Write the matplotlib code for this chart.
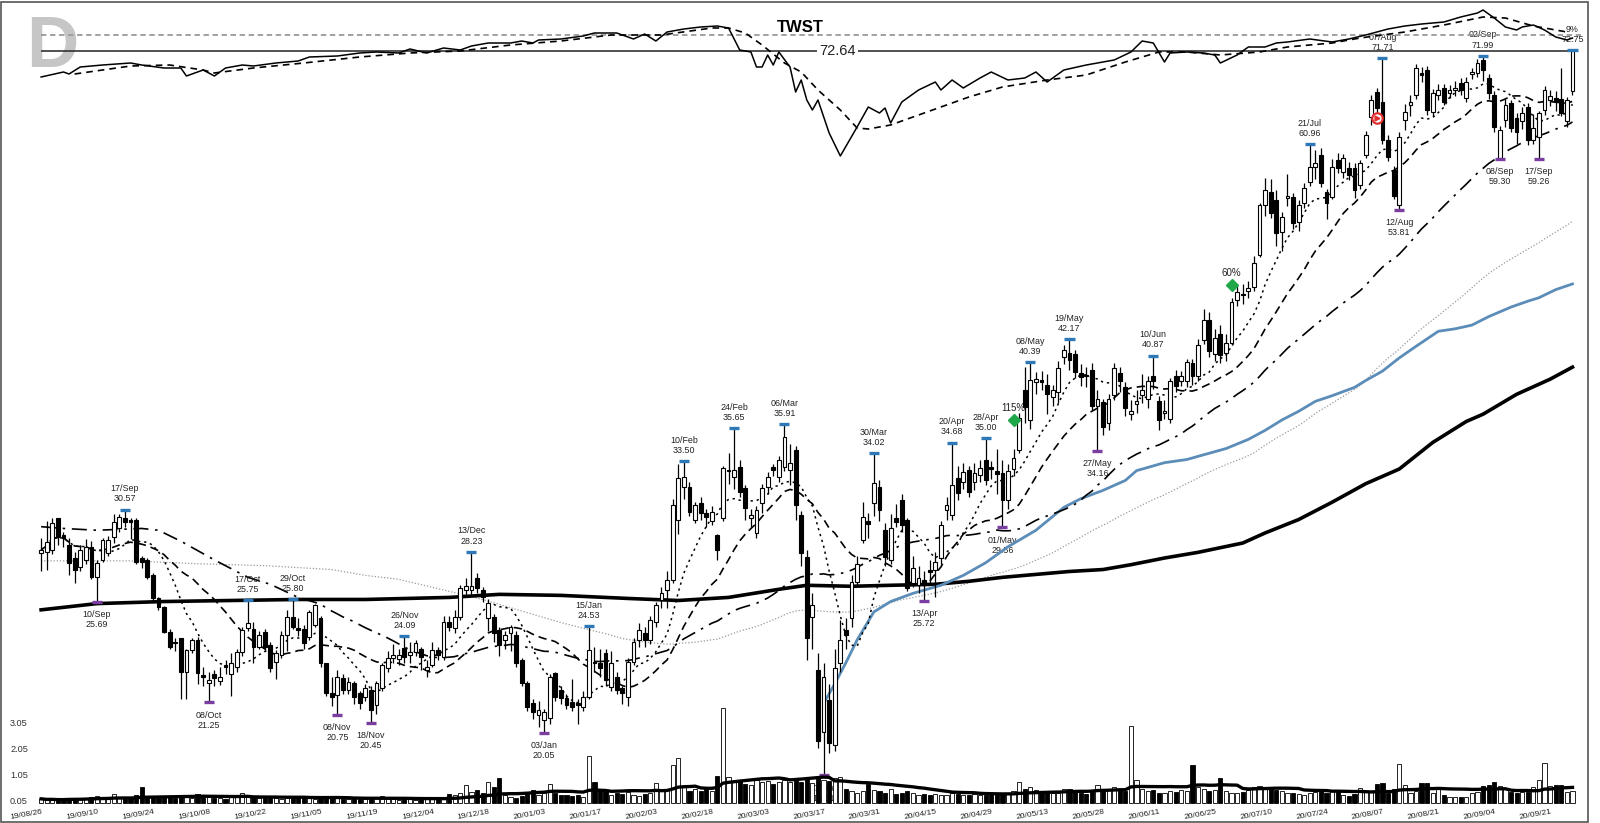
"""TWST daily chart: candles, moving averages, relative strength line and volume."""
import matplotlib
matplotlib.use("Agg")
import matplotlib.pyplot as plt
from matplotlib.patches import Rectangle
from matplotlib.transforms import blended_transform_factory
import numpy as np
import pandas as pd

plt.rcParams["font.family"] = ["Liberation Sans", "DejaVu Sans"]

TICKER = "TWST"
HOLIDAYS = ["2019-09-02", "2019-11-28", "2019-12-25", "2020-01-01", "2020-01-20",
            "2020-02-17", "2020-04-10", "2020-05-25", "2020-07-03", "2020-09-07"]

opens = [
    28.15, 28.24, 28.33, 30.07, 29.14, 28.60, 27.89, 27.45, 27.80, 28.50,
    26.94, 27.80, 28.15, 29.04, 29.50, 30.07, 29.98, 29.98, 27.89, 27.80,
    27.02, 25.85, 25.45, 24.28, 23.83, 23.98, 22.51, 23.46, 23.90, 22.37,
    22.02, 22.41, 22.13, 22.80, 22.41, 22.72, 23.38, 24.44, 24.40, 23.60,
    24.28, 23.68, 22.94, 23.24, 24.13, 24.97, 24.44, 24.40, 24.05, 24.59,
    24.90, 22.87, 21.61, 21.54, 22.23, 21.75, 22.02, 21.61, 21.48, 21.75,
    21.14, 21.82, 22.65, 23.09, 23.05, 23.52, 23.24, 23.38, 23.50, 22.58,
    22.80, 23.46, 23.16, 24.74, 24.44, 24.97, 26.27, 26.27, 26.85, 26.27,
    24.90, 24.97, 24.36, 23.90, 24.20, 24.13, 23.01, 22.02, 21.21, 20.75,
    20.55, 20.62, 22.44, 21.75, 21.41, 21.27, 21.21, 21.07, 21.48, 22.94,
    22.87, 23.31, 21.89, 22.30, 21.82, 21.48, 22.94, 23.90, 24.20, 23.90,
    24.74, 25.77, 26.27, 26.77, 29.98, 31.93, 31.93, 29.98, 30.94, 30.36,
    29.90, 29.14, 30.07, 32.85, 32.53, 33.15, 31.82, 30.07, 29.23, 30.94,
    31.93, 33.15, 32.53, 33.15, 32.94, 34.21, 30.26, 27.96, 24.97, 22.60,
    20.10, 21.34, 19.60, 22.87, 24.36, 24.91, 26.67, 28.86, 29.90, 30.94,
    31.90, 29.41, 27.80, 30.10, 31.13, 29.98, 26.62, 26.52, 26.77, 27.27,
    27.27, 27.89, 30.55, 30.26, 32.45, 32.20, 32.94, 32.20, 32.63, 33.57,
    33.05, 32.90, 32.75, 31.13, 33.00, 34.21, 38.31, 36.20, 38.90, 39.00,
    38.70, 37.80, 38.20, 40.76, 41.10, 41.00, 39.55, 39.40, 39.78, 37.20,
    37.45, 36.00, 37.97, 39.55, 38.50, 36.62, 37.30, 37.95, 37.70, 39.34,
    37.50, 36.70, 36.30, 39.34, 38.96, 38.96, 40.30, 39.30, 42.10, 43.70,
    41.00, 42.60, 41.10, 41.90, 45.40, 45.90, 46.20, 46.50, 49.40, 54.30,
    55.65, 54.80, 51.60, 55.00, 55.10, 52.60, 54.50, 56.70, 58.40, 59.70,
    55.65, 55.10, 59.13, 57.80, 58.25, 58.25, 56.40, 59.70, 64.10, 67.20,
    66.00, 61.40, 58.00, 54.30, 63.80, 65.60, 66.90, 69.70, 70.08, 64.80,
    66.90, 67.80, 67.10, 67.50, 68.40, 66.50, 69.60, 69.70, 71.42, 69.00,
    66.90, 59.35, 63.80, 65.85, 64.00, 63.60, 65.40, 61.40, 61.80, 65.00,
    66.20, 66.50, 66.30, 63.60, 67.30,
]
highs = [
    28.95, 29.90, 30.10, 30.10, 29.30, 29.00, 28.20, 28.60, 28.90, 28.80,
    27.80, 29.00, 29.10, 30.30, 30.30, 30.57, 30.10, 30.10, 28.00, 27.90,
    27.10, 25.90, 25.50, 24.40, 24.00, 24.00, 23.50, 24.00, 24.05, 22.70,
    22.50, 22.60, 22.70, 23.00, 23.30, 23.50, 24.51, 25.75, 24.74, 24.30,
    24.40, 23.80, 23.46, 24.30, 25.30, 25.80, 24.90, 24.60, 25.30, 25.60,
    25.00, 22.90, 22.30, 22.58, 22.40, 22.30, 22.10, 21.70, 22.00, 21.90,
    22.10, 22.90, 23.40, 23.70, 23.50, 24.09, 23.80, 23.90, 23.60, 23.00,
    23.80, 23.60, 25.00, 25.00, 25.30, 26.50, 26.85, 28.23, 27.10, 26.40,
    25.80, 25.10, 24.50, 24.30, 24.60, 24.30, 23.10, 22.10, 21.40, 21.30,
    21.00, 22.40, 22.50, 21.90, 21.60, 22.20, 21.40, 21.70, 24.53, 23.60,
    23.50, 23.50, 23.40, 22.50, 21.90, 23.10, 24.00, 24.70, 24.50, 25.00,
    25.70, 26.40, 27.20, 31.20, 33.30, 33.50, 32.20, 31.00, 31.30, 30.60,
    30.80, 29.20, 33.20, 34.00, 35.65, 33.60, 32.00, 30.60, 30.80, 32.10,
    32.80, 33.30, 33.80, 35.91, 34.60, 34.50, 30.50, 28.30, 26.10, 23.30,
    22.90, 22.00, 23.50, 24.80, 24.90, 27.00, 28.00, 31.00, 30.40, 34.02,
    32.30, 29.80, 30.30, 30.90, 31.50, 30.10, 28.00, 27.50, 27.20, 27.80,
    28.20, 29.90, 31.30, 34.68, 33.20, 33.40, 33.20, 33.40, 33.60, 35.00,
    33.50, 34.30, 33.60, 33.30, 34.30, 36.70, 40.00, 40.39, 39.60, 39.70,
    39.50, 38.70, 40.50, 41.70, 42.17, 41.30, 40.20, 40.00, 40.30, 38.30,
    37.70, 38.00, 40.30, 40.00, 38.90, 37.60, 38.30, 39.50, 39.30, 40.87,
    37.90, 37.60, 39.20, 39.80, 39.70, 40.60, 40.60, 42.20, 44.60, 44.40,
    43.00, 43.30, 42.60, 45.60, 46.60, 46.80, 47.10, 49.30, 54.50, 57.20,
    57.00, 55.90, 53.60, 57.60, 55.60, 54.80, 56.60, 60.96, 60.30, 60.50,
    56.00, 59.20, 59.90, 59.80, 58.90, 58.80, 59.10, 62.50, 66.80, 67.80,
    71.71, 62.00, 58.50, 62.30, 65.70, 66.80, 70.90, 70.50, 70.60, 67.60,
    68.20, 68.30, 68.10, 68.60, 69.00, 69.10, 70.30, 71.60, 71.99, 69.60,
    67.30, 63.00, 66.30, 66.20, 64.60, 65.40, 65.90, 64.50, 64.90, 68.00,
    67.50, 67.30, 70.40, 66.60, 72.75,
]
lows = [
    27.20, 27.30, 28.10, 28.60, 28.50, 27.00, 26.60, 27.20, 27.60, 26.80,
    25.69, 27.70, 28.00, 28.70, 29.30, 29.60, 28.90, 27.60, 27.40, 26.80,
    25.70, 25.30, 24.20, 23.50, 23.40, 21.40, 21.40, 23.30, 22.00, 21.90,
    21.25, 21.90, 21.95, 22.40, 21.50, 22.50, 23.20, 24.30, 22.90, 23.50,
    23.40, 22.50, 22.20, 23.10, 23.40, 24.40, 24.10, 23.50, 23.90, 24.50,
    22.70, 21.50, 21.10, 20.75, 21.60, 21.60, 21.20, 21.00, 21.30, 20.45,
    20.80, 21.70, 22.50, 22.90, 22.80, 22.90, 22.90, 23.20, 22.60, 22.30,
    22.70, 23.00, 23.00, 24.30, 24.20, 24.80, 25.90, 26.00, 26.10, 25.70,
    24.30, 23.80, 23.20, 23.50, 23.40, 22.70, 21.90, 20.90, 20.60, 20.30,
    20.05, 20.40, 21.30, 21.20, 21.00, 20.90, 20.40, 20.90, 21.40, 22.50,
    22.30, 21.90, 21.70, 21.60, 21.20, 21.10, 22.80, 23.60, 23.60, 23.70,
    24.50, 25.40, 25.40, 26.60, 29.20, 31.20, 30.20, 29.80, 30.00, 29.60,
    29.70, 27.80, 29.90, 32.10, 31.80, 31.30, 30.00, 29.60, 29.00, 30.40,
    31.50, 32.60, 32.20, 32.90, 32.00, 30.00, 27.50, 23.00, 23.50, 19.50,
    18.51, 19.30, 19.40, 22.50, 23.50, 24.50, 26.40, 28.70, 29.00, 30.20,
    29.90, 27.50, 27.60, 29.60, 29.30, 26.20, 26.40, 26.10, 25.72, 26.50,
    25.90, 27.60, 30.00, 30.00, 31.10, 31.80, 31.30, 31.70, 32.20, 32.00,
    32.40, 31.50, 29.56, 30.60, 32.60, 34.00, 36.00, 35.60, 38.00, 38.30,
    36.60, 37.20, 37.40, 40.20, 39.80, 39.20, 38.60, 38.50, 36.90, 34.16,
    35.20, 35.50, 37.60, 38.20, 36.50, 36.20, 36.70, 37.40, 37.00, 38.40,
    35.50, 36.30, 36.00, 38.20, 38.60, 38.50, 38.70, 39.00, 41.80, 40.80,
    40.50, 40.30, 40.50, 41.70, 44.90, 45.10, 45.60, 46.20, 49.20, 53.20,
    53.00, 50.30, 49.80, 54.20, 51.90, 51.70, 54.00, 56.30, 57.00, 56.20,
    52.90, 54.90, 57.70, 57.20, 56.90, 55.00, 56.00, 59.40, 63.20, 64.50,
    61.00, 59.00, 54.90, 53.81, 62.60, 64.30, 66.30, 68.50, 64.40, 64.30,
    66.20, 65.60, 66.50, 66.70, 66.90, 66.00, 68.90, 69.20, 68.70, 66.40,
    62.30, 59.30, 62.90, 62.30, 61.00, 62.70, 60.80, 61.00, 59.26, 64.40,
    65.50, 64.90, 64.20, 62.90, 66.90,
]
closes = [
    28.33, 28.77, 29.79, 29.04, 28.95, 27.62, 27.27, 28.33, 28.50, 26.94,
    27.62, 28.86, 28.86, 29.88, 30.17, 29.88, 29.88, 27.71, 27.71, 26.94,
    25.85, 25.45, 24.28, 23.60, 23.75, 22.51, 23.46, 23.90, 22.44, 22.30,
    22.16, 22.23, 22.30, 22.72, 22.87, 23.38, 24.36, 24.67, 23.60, 24.13,
    23.60, 22.65, 23.31, 24.13, 24.97, 24.51, 24.36, 23.75, 25.20, 25.55,
    22.87, 21.61, 21.48, 22.30, 21.75, 22.09, 21.48, 21.21, 21.82, 20.94,
    22.02, 22.80, 23.09, 23.24, 23.24, 23.16, 23.38, 23.75, 23.16, 22.72,
    23.46, 23.24, 24.74, 24.51, 24.97, 26.36, 26.44, 26.44, 26.36, 25.94,
    25.61, 24.20, 23.68, 24.13, 24.51, 22.87, 22.02, 21.07, 20.88, 20.94,
    20.88, 22.30, 21.48, 21.41, 21.14, 21.07, 21.14, 21.48, 23.46, 22.87,
    22.65, 22.16, 22.87, 21.75, 21.61, 22.94, 23.83, 24.36, 23.90, 24.82,
    25.53, 26.11, 26.77, 30.84, 32.43, 32.53, 30.45, 30.84, 30.36, 30.17,
    30.45, 28.33, 33.05, 32.94, 32.94, 31.62, 30.64, 30.26, 30.55, 31.82,
    32.53, 32.94, 33.57, 35.07, 33.36, 30.84, 28.15, 23.98, 25.53, 19.75,
    22.30, 19.67, 22.65, 23.90, 24.13, 26.67, 27.60, 30.15, 29.75, 32.15,
    30.55, 27.96, 29.55, 29.88, 29.70, 26.37, 27.38, 26.87, 26.52, 27.19,
    27.71, 29.70, 30.84, 32.03, 31.53, 32.82, 31.60, 32.75, 33.07, 32.33,
    33.00, 32.70, 31.13, 32.88, 33.70, 36.34, 37.10, 39.04, 39.10, 38.90,
    38.00, 38.30, 39.90, 41.31, 40.55, 39.63, 39.24, 39.30, 37.20, 37.70,
    35.72, 37.70, 39.93, 38.96, 37.00, 36.80, 37.50, 38.30, 38.96, 38.96,
    36.20, 36.85, 38.96, 38.60, 39.34, 40.40, 39.30, 41.70, 43.70, 41.20,
    42.30, 40.90, 41.90, 45.20, 46.10, 45.80, 46.40, 48.65, 54.30, 55.90,
    53.50, 51.50, 53.10, 55.30, 52.50, 54.30, 56.05, 58.40, 58.80, 56.60,
    54.50, 58.40, 58.25, 59.35, 57.50, 55.87, 58.80, 62.00, 66.20, 65.20,
    61.40, 59.50, 55.30, 61.80, 64.80, 66.00, 70.40, 69.40, 65.00, 67.10,
    67.50, 66.00, 67.50, 67.80, 67.50, 68.50, 69.70, 71.00, 70.08, 67.10,
    62.90, 62.60, 65.60, 62.80, 62.30, 64.60, 61.40, 62.80, 64.60, 67.50,
    66.70, 66.00, 64.60, 66.20, 72.64,
]
# volume, millions of shares
volume = [
    0.16, 0.12, 0.14, 0.10, 0.13, 0.18, 0.15, 0.17, 0.21, 0.23,
    0.28, 0.20, 0.22, 0.36, 0.25, 0.20, 0.18, 0.30, 0.62, 0.26,
    0.24, 0.20, 0.22, 0.26, 0.18, 0.24, 0.22, 0.20, 0.36, 0.24,
    0.22, 0.18, 0.20, 0.16, 0.24, 0.22, 0.40, 0.26, 0.22, 0.18,
    0.20, 0.22, 0.18, 0.16, 0.20, 0.18, 0.22, 0.20, 0.18, 0.16,
    0.20, 0.22, 0.18, 0.20, 0.16, 0.14, 0.18, 0.16, 0.15, 0.18,
    0.20, 0.28, 0.18, 0.14, 0.12, 0.16, 0.14, 0.12, 0.15, 0.14,
    0.16, 0.18, 0.22, 0.34, 0.30, 0.38, 0.68, 0.42, 0.50, 0.38,
    0.82, 0.62, 0.95, 0.30, 0.22, 0.18, 0.28, 0.35, 0.50, 0.32,
    0.40, 0.75, 0.38, 0.30, 0.32, 0.28, 0.30, 0.25, 1.80, 0.82,
    0.50, 0.45, 0.30, 0.38, 0.35, 0.42, 0.32, 0.28, 0.36, 0.40,
    0.76, 0.50, 0.55, 1.45, 1.72, 0.60, 0.45, 0.55, 0.48, 0.52,
    0.48, 1.04, 3.65, 1.01, 0.85, 0.90, 0.75, 0.70, 0.88, 0.80,
    0.85, 0.75, 0.80, 0.90, 0.82, 0.88, 0.80, 0.92, 0.78, 0.95,
    0.90, 0.85, 0.95, 1.00, 0.55, 0.45, 0.40, 0.45, 0.75, 0.50,
    0.45, 0.40, 0.55, 0.35, 0.40, 0.45, 0.38, 0.32, 0.36, 0.30,
    0.35, 0.32, 0.30, 0.38, 0.35, 0.32, 0.30, 0.36, 0.32, 0.30,
    0.35, 0.38, 0.40, 0.36, 0.45, 0.80, 0.55, 0.60, 0.50, 0.48,
    0.45, 0.40, 0.38, 0.55, 0.52, 0.45, 0.40, 0.35, 0.50, 0.70,
    0.45, 0.55, 0.62, 0.50, 0.48, 2.95, 0.90, 0.55, 0.45, 0.50,
    0.40, 0.38, 0.45, 0.42, 0.50, 0.45, 1.47, 0.60, 0.55, 0.48,
    0.50, 0.95, 0.45, 0.40, 0.38, 0.42, 0.50, 0.60, 0.65, 0.55,
    0.60, 0.50, 0.45, 0.40, 0.38, 0.35, 0.30, 0.40, 0.42, 0.45,
    0.40, 0.50, 0.46, 0.31, 0.28, 0.33, 0.57, 0.43, 0.43, 0.73,
    0.78, 0.40, 0.53, 1.49, 0.69, 0.37, 0.46, 0.78, 0.76, 0.37,
    0.59, 0.31, 0.24, 0.24, 0.24, 0.24, 0.40, 0.43, 0.65, 0.69,
    0.82, 0.65, 0.53, 0.43, 0.37, 0.43, 0.43, 0.60, 0.88, 1.53,
    0.65, 0.69, 0.69, 0.43, 0.47,
]

# long averages read off the chart where the visible window has no history
ma50_head_idx = [0, 4, 10, 18, 21, 25, 31, 37, 41, 46]
ma50_head_val = [29.6, 29.5, 29.4, 29.5, 29.4, 28.8, 27.8, 26.9, 26.55, 25.9]
ma100_head_idx = [0, 16, 28, 40, 52, 58, 64, 73, 79, 84, 93]
ma100_head_val = [27.75, 27.75, 27.6, 27.5, 27.3, 27.0, 26.8, 26.2, 25.8, 25.4, 24.7]
ma200_idx = [0, 10, 22, 34, 46, 58, 73, 82, 93, 105, 114, 123, 132, 137, 145,
             152, 160, 166, 172, 178, 184, 190, 195, 201, 207, 215, 219, 225, 231,
             237, 243, 249, 255, 258, 264, 270, 274]
ma200_val = [25.3, 25.6, 25.7, 25.75, 25.8, 25.8, 25.9, 26.05, 26.0, 25.85, 25.75, 25.9, 26.3, 26.5, 26.45,
             26.5, 26.55, 26.7, 26.9, 27.05, 27.2, 27.3, 27.55, 27.9, 28.2, 28.7, 29.25, 30.0, 31.0,
             32.1, 33.0, 34.7, 36.1, 36.6, 38.0, 39.1, 40.0]
# VWAP anchored at the March low
vwap_idx = [140, 142, 144, 146, 149, 152, 156, 161, 165, 169, 173, 178, 183, 186, 190, 194, 196, 201,
            205, 208, 212, 216, 219, 222, 225, 228, 231, 235, 237, 240, 243, 246, 250, 253, 256, 259,
            263, 266, 268, 271, 274]
vwap_val = [21.2, 22.0, 22.9, 23.9, 25.2, 25.7, 26.1, 26.5, 27.0, 27.65, 28.5, 29.4, 30.7, 31.2, 31.7,
            32.3, 32.9, 33.4, 33.6, 33.9, 34.3, 34.9, 35.5, 36.2, 36.8, 37.5, 37.9, 38.5, 39.0, 39.7,
            40.7, 41.6, 42.8, 43.0, 43.3, 44.0, 44.8, 45.3, 45.6, 46.3, 46.8]

# relative strength line (arbitrary units) and its average
rs_idx = [0, 4, 5, 7, 11, 16, 18, 22, 25, 26, 29, 31, 33, 36, 38, 42, 46, 48, 53, 57,
          60, 64, 66, 69, 72, 75, 77, 80, 84, 86, 88, 89, 93, 97, 99, 103, 106, 108, 110, 112,
          115, 118, 121, 123, 125, 127, 128, 129, 130, 131, 132, 134, 135, 136, 137, 138, 139, 141, 143, 146,
          148, 150, 151, 152, 154, 157, 160, 161, 163, 165, 168, 170, 173, 176, 178, 180, 183, 187, 190, 192,
          195, 197, 199, 201, 202, 205, 208, 210, 211, 214, 216, 219, 221, 223, 227, 231, 234, 237, 241, 244,
          247, 251, 254, 257, 258, 260, 262, 264, 265, 267, 269, 271, 273, 274]
rs_val = [123, 128, 126, 133, 135, 137, 135, 132, 132, 124, 130, 124, 132, 135, 134, 137, 139, 143, 144, 147,
          148, 147, 151, 147, 152, 150, 154, 157, 157, 159, 157, 160, 161, 164, 167, 167, 161, 166, 159, 168,
          171, 173, 174, 172, 150, 148, 133, 133, 145, 135, 148, 133, 108, 120, 100, 90, 100, 67, 44, 73,
          93, 87, 92, 77, 98, 110, 118, 110, 120, 112, 122, 128, 120, 122, 128, 118, 130, 135, 138, 140,
          148, 159, 157, 138, 147, 148, 147, 145, 137, 145, 153, 153, 157, 158, 161, 158, 161, 165, 171, 174,
          176, 178, 183, 187, 190, 182, 173, 170, 173, 175, 170, 163, 160, 162]
rs_ma_idx = [6, 16, 23, 29, 31, 38, 47, 57, 66, 75, 84, 93, 102, 111, 120, 123, 126, 129, 133, 136,
             139, 143, 146, 148, 152, 157, 161, 166, 172, 180, 187, 194, 200, 205, 211, 218, 223, 231, 236, 244,
             251, 258, 262, 267, 273]
rs_ma_val = [126, 134, 135, 130, 127, 132, 137, 143, 147, 149, 155, 159, 165, 165, 172, 172, 167, 155, 137, 128,
             110, 90, 72, 71, 75, 85, 93, 103, 113, 120, 125, 138, 148, 148, 145, 148, 153, 157, 162, 168,
             175, 183, 182, 174, 168]
RS_REF = 165

hi_idx = [15, 37, 45, 65, 77, 98, 115, 124, 133, 149, 163, 169, 177, 184, 199, 227, 240, 258, 274]
lo_idx = [10, 30, 53, 59, 90, 140, 158, 172, 189, 243, 261, 268]
sig_idx = [174, 213]
sig_price = [36.2, 46.7]
sig_text = ["115%", "60%"]
event_idx = [239]
event_price = [64.0]
vol_ticks = [0.05, 1.05, 2.05, 3.05]

W, H = 1600, 823
X0, DX = 41.1, 5.589          # pixel of the first bar and bar spacing
BLUE, PURPLE = "#2f78b7", "#7a3da0"


def main() -> None:
    dates = pd.bdate_range("2019-08-26", "2020-09-25")
    dates = dates[~dates.isin(pd.to_datetime(HOLIDAYS))]
    o, h, l, c = (np.array(a, dtype=float) for a in (opens, highs, lows, closes))
    v = np.array(volume)
    n = len(c)
    x = np.arange(n)
    xlim = (-X0 / DX, (W - X0) / DX)

    fig = plt.figure(figsize=(W / 100, H / 100), dpi=100)
    fig.patch.set_facecolor("white")

    # ---- price panel
    ax = fig.add_axes([0, 0, 1, 1])
    ax.set_yscale("log")
    ax.set_xlim(*xlim)
    ax.set_ylim(16.92, 79.98)
    ax.axis("off")

    ax.text(52 / W, 1 - 48 / H, "D", transform=fig.transFigure, ha="center", va="center",
            fontsize=52, fontweight="bold", color="#c6c6c6", zorder=0)

    s = pd.Series(c)
    ma10 = s.rolling(10, min_periods=1).mean()
    ma21 = s.rolling(21, min_periods=1).mean()
    ma50 = s.rolling(50).mean()
    ma100 = s.rolling(100).mean()
    ax.plot(ma100_head_idx + list(range(99, n)), ma100_head_val + list(ma100[99:]),
            color="#9a9a9a", lw=0.9, ls=(0, (1, 1.5)), zorder=2)
    ax.plot(ma200_idx, ma200_val, color="black", lw=2.6, zorder=2)
    ax.plot(vwap_idx, vwap_val, color="#5b8db8", lw=2.0, zorder=2)
    ax.plot(ma50_head_idx + list(range(49, n)), ma50_head_val + list(ma50[49:]),
            color="black", lw=1.2, ls=(0, (9, 4, 1.5, 4)), zorder=2)
    ax.plot(x, ma21, color="black", lw=1.2, ls=(0, (5, 3)), zorder=2)
    ax.plot(x, ma10, color="black", lw=1.1, ls=(0, (1.5, 2.5)), zorder=2)

    # candles
    up = c >= o
    ax.vlines(x, l, h, color="black", lw=0.9, zorder=3)
    body_lo = np.minimum(o, c)
    body_h = np.maximum(np.abs(c - o), body_lo * 0.003)
    ax.bar(x, body_h, bottom=body_lo, width=0.68, color=np.where(up, "white", "black"),
           edgecolor="black", linewidth=0.8, zorder=4)

    # last price line
    ax.hlines(c[-1], 0, n - 0.5, color="#333333", lw=1.2, zorder=2)
    ax.text(142.5, c[-1], f"{c[-1]:.2f}", ha="center", va="center", fontsize=10.5, color="#222222",
            bbox=dict(facecolor="white", edgecolor="none", pad=1.5), zorder=5)

    # swing high / low labels
    pct = int((c[-1] / c[-2] - 1) * 100)
    for i in hi_idx:
        ax.plot([i - 0.9, i + 0.9], [h[i], h[i]], color=BLUE, lw=2.4, solid_capstyle="butt", zorder=5)
        label = dates[i].strftime("%d/%b") if i < n - 1 else f"{pct}%"
        ax.annotate(f"{label}\n{h[i]:.2f}", (i, h[i]), xytext=(0, 4.5), textcoords="offset points",
                    ha="center", va="bottom", fontsize=6.4, linespacing=1.15, color="#222222", zorder=6)
    for i in lo_idx:
        ax.plot([i - 0.9, i + 0.9], [l[i], l[i]], color=PURPLE, lw=2.4, solid_capstyle="butt", zorder=5)
        ax.annotate(f"{dates[i].strftime('%d/%b')}\n{l[i]:.2f}", (i, l[i]), xytext=(0, -6),
                    textcoords="offset points", ha="center", va="top", fontsize=6.4,
                    linespacing=1.15, color="#222222", zorder=1)

    ax.plot(sig_idx, sig_price, "D", color="#1fa84a", ms=6, zorder=6)
    for i, p, t in zip(sig_idx, sig_price, sig_text):
        ax.annotate(t, (i, p), xytext=(0, 5), textcoords="offset points", ha="center", va="bottom",
                    fontsize=7, color="#222222", zorder=6)
    ax.plot(event_idx, event_price, "o", mfc="white", mec="#e03030", mew=1.6, ms=7.5, zorder=6)
    ax.plot(event_idx, event_price, ">", color="#e03030", ms=3.5, zorder=7)

    trans = blended_transform_factory(ax.transData, ax.transAxes)
    for i in range(0, n, 10):
        ax.text(i + 0.3, 1 - 812 / H, dates[i].strftime("%y/%m/%d"), transform=trans, rotation=10,
                rotation_mode="anchor", ha="right", va="center", fontsize=6, color="#222222")

    # ---- volume panel
    axv = fig.add_axes([0, 0, 1, 1])
    axv.set_xlim(*xlim)
    axv.set_ylim(-0.769, 30.885)
    axv.axis("off")
    axv.bar(x, v, width=0.75, color=np.where(up, "white", "black"), edgecolor="black", linewidth=0.6)
    axv.plot(x, pd.Series(v).rolling(20, min_periods=1).mean(), color="black", lw=2.4)
    vtrans = blended_transform_factory(axv.transAxes, axv.transData)
    for t in vol_ticks:
        axv.text(10 / W, t, f"{t:.2f}", transform=vtrans, ha="left", va="center", fontsize=6.6,
                 color="#333333")

    # ---- relative strength panel
    axr = fig.add_axes([0, 0, 1, 1])
    axr.set_xlim(*xlim)
    axr.set_ylim(-623, 200)
    axr.axis("off")
    axr.hlines(RS_REF, 0, n + 0.5, color="#9a9a9a", lw=1.3, linestyles=(0, (3, 2)))
    axr.plot(rs_ma_idx, rs_ma_val, color="black", lw=1.2, ls=(0, (4, 3)))
    axr.plot(rs_idx, rs_val, color="black", lw=1.1)

    fig.text(800 / W, 1 - 28 / H, TICKER, ha="center", va="center", fontsize=12, fontweight="bold")
    fig.add_artist(Rectangle((0.5 / W, 1.5 / H), 1587.5 / W, 819.5 / H, transform=fig.transFigure,
                             fill=False, edgecolor="#555555", lw=1.2))

    fig.savefig("out.png", dpi=100, facecolor="white")
    plt.close(fig)


if __name__ == "__main__":
    main()
